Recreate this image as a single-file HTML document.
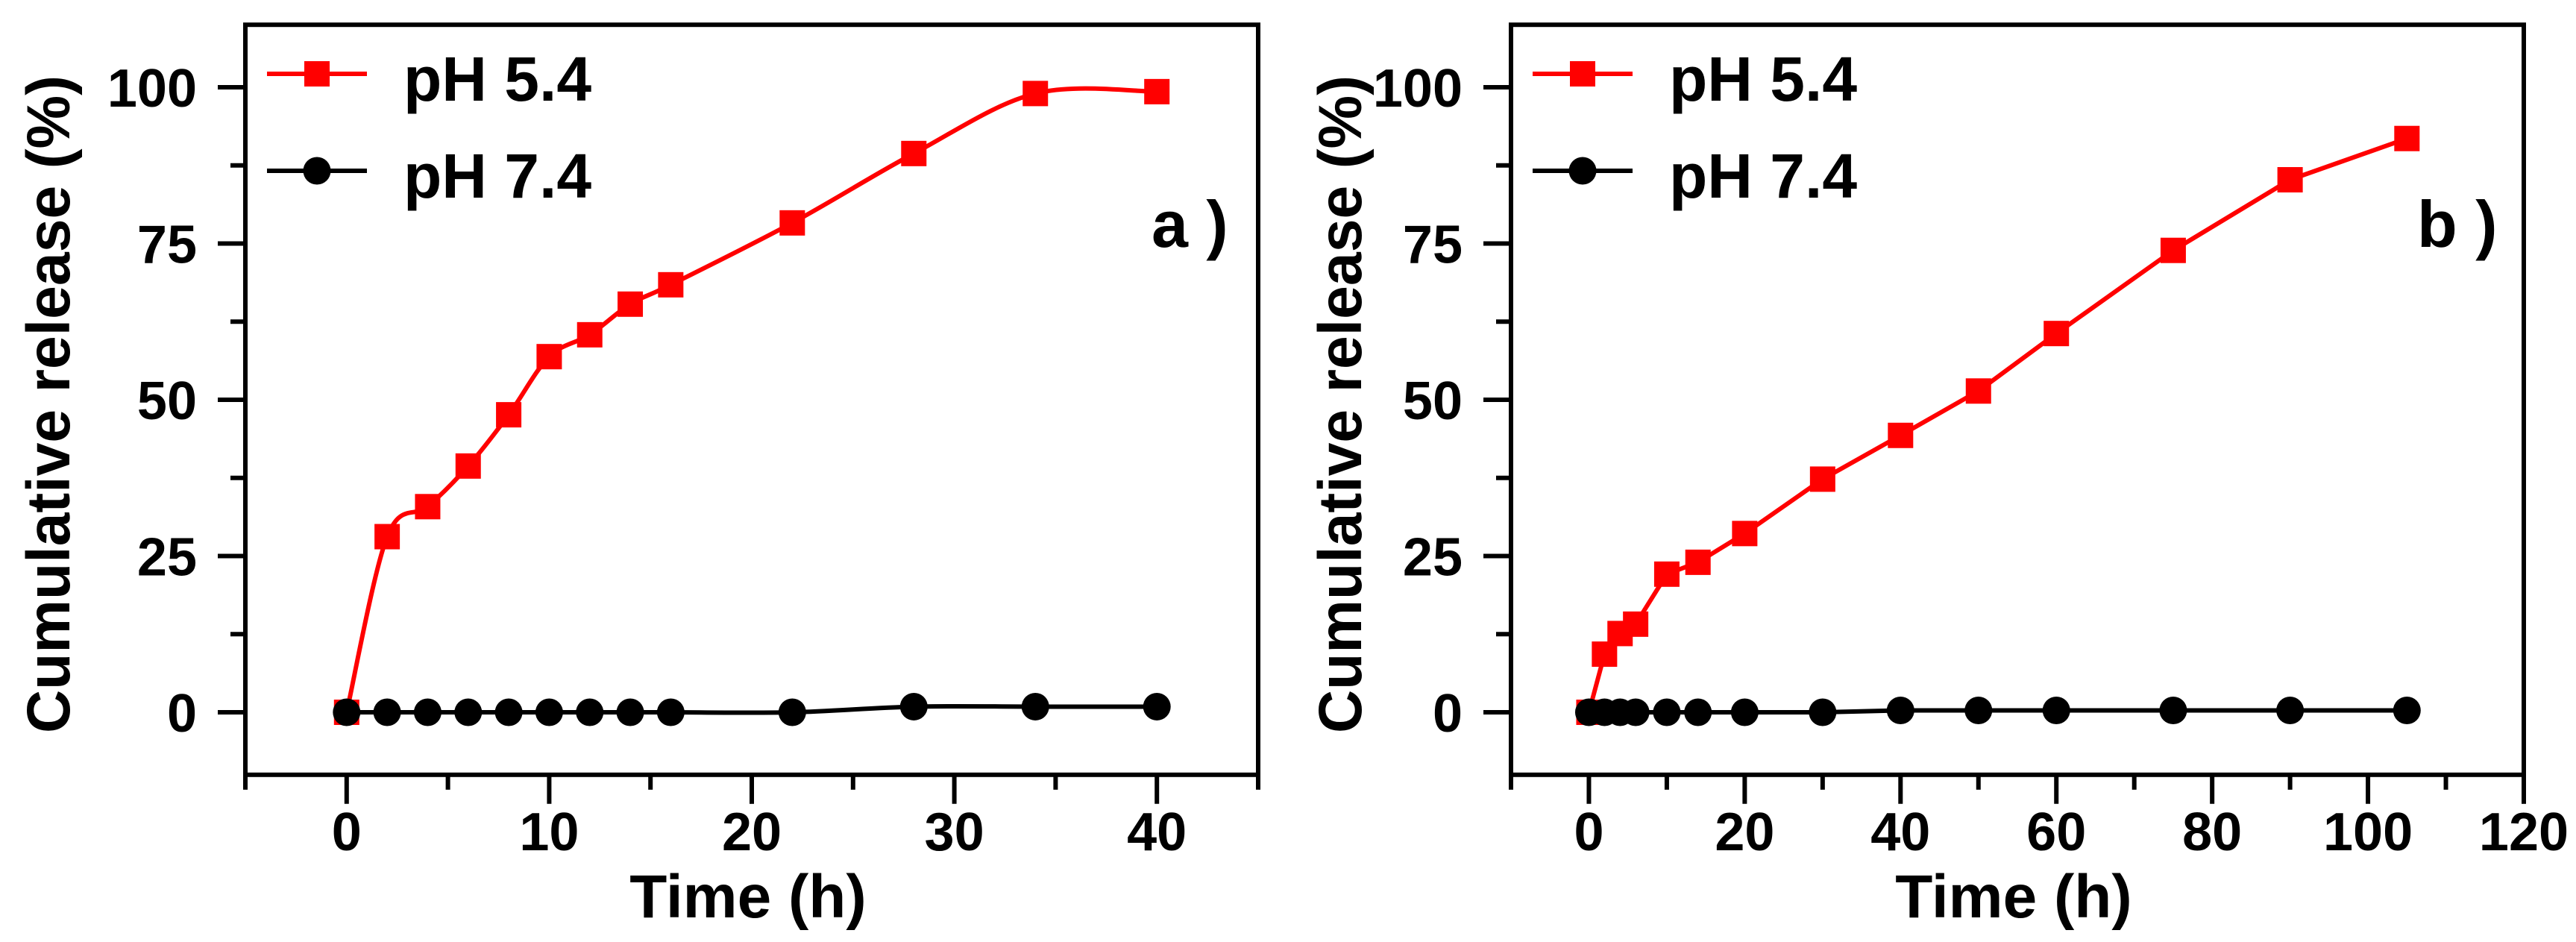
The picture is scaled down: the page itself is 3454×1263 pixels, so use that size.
<!DOCTYPE html>
<html><head><meta charset="utf-8"><style>
html,body{margin:0;padding:0;background:#fff;}
svg{display:block;font-family:"Liberation Sans",Arial,sans-serif;font-weight:bold;}
</style></head><body>
<svg id="chart" width="3454" height="1263" viewBox="0 0 3454 1263" xmlns="http://www.w3.org/2000/svg"></svg>
<script>
const aTimes = [0,2,4,6,8,10,12,14,16,22,28,34,40];
const aAcid = [0,28.1,32.9,39.4,47.6,56.9,60.4,65.3,68.4,78.3,89.4,99.0,99.3];
const aNeutral = [0,0,0,0,0,0,0,0,0,0,0.9,0.9,0.9];
const bTimes = [0,2,4,6,10,14,20,30,40,50,60,75,90,105];
const bAcid = [0,9.3,12.6,14.1,22.1,24.0,28.6,37.3,44.3,51.4,60.6,73.9,85.2,91.8];
const bNeutral = [0,0,0,0,0,0,0,0,0.3,0.3,0.3,0.3,0.3,0.3];
const yTickLabels = [0,25,50,75,100];
const aXTickLabels = [0,10,20,30,40];
const bXTickLabels = [0,20,40,60,80,100,120];
const seriesNames = ["pH 5.4","pH 7.4"];

const NS="http://www.w3.org/2000/svg";
const svg=document.getElementById('chart');
function mk(tag,attrs,parent){const e=document.createElementNS(NS,tag);for(const k in attrs)e.setAttribute(k,attrs[k]);(parent||svg).appendChild(e);return e;}

function panel(o){
  const g=mk('g',{});
  
  
  const X=v=>o.x0+(v-o.xmin)*(o.x1-o.x0)/(o.xmax-o.xmin);
  const Y=v=>955-v*8.38;
  const top=Y(110),bot=Y(-10);
  for(let i=0;i<=8;i++){const v=i*12.5;const major=i%2===0;
    const t=mk('line',{x1:o.x0-(major?37:20),x2:o.x0,y1:Y(v),y2:Y(v),stroke:'#000','stroke-width':6},g);
    
    
  }
  yTickLabels.forEach(v=>{const t=mk('text',{x:o.x0-65,y:Y(v)+26,'text-anchor':'end','font-size':72},g);t.textContent=v;
    
    });
  for(let v=o.xmin;v<=o.xmax+0.001;v+=o.minor){const major=Math.abs(v/o.major-Math.round(v/o.major))<1e-6;
    const t=mk('line',{x1:X(v),x2:X(v),y1:bot,y2:bot+(major?39:20),stroke:'#000','stroke-width':6},g);
    
    
  }
  o.xlabels.forEach(v=>{const t=mk('text',{x:X(v),y:1140,'text-anchor':'middle','font-size':72},g);t.textContent=v;
    
    });
  const f=mk('rect',{x:o.x0,y:top,width:o.x1-o.x0,height:bot-top,fill:'none',stroke:'#000','stroke-width':6},g);
  
  
  const xt=mk('text',{x:(o.x0+o.x1)/2-5,y:1230,'text-anchor':'middle','font-size':82},g);xt.textContent='Time (h)';
  
  
  const yt=mk('text',{x:0,y:0,'text-anchor':'middle','font-size':82,transform:`translate(${o.ytx},542) rotate(-90)`,textLength:882,lengthAdjust:'spacingAndGlyphs'},g);yt.textContent='Cumulative release (%)';
  
  
  function path(xs,ys,smooth){const p=xs.map((x,i)=>[X(x),Y(ys[i])]);
    if(!smooth)return 'M'+p.map(q=>q.join(',')).join('L');
    let d='M'+p[0].join(',');
    for(let i=0;i<p.length-1;i++){const p0=p[Math.max(0,i-1)],p1=p[i],p2=p[i+1],p3=p[Math.min(p.length-1,i+2)];
      const c1=[p1[0]+(p2[0]-p0[0])/6,p1[1]+(p2[1]-p0[1])/6],c2=[p2[0]-(p3[0]-p1[0])/6,p2[1]-(p3[1]-p1[1])/6];
      d+=`C${c1} ${c2} ${p2}`;}
    return d;}
  const ln2=mk('path',{d:path(o.t,o.n,o.smooth),fill:'none',stroke:'#000','stroke-width':6},g);
  
  
  const ln1=mk('path',{d:path(o.t,o.a,o.smooth),fill:'none',stroke:'#ff0000','stroke-width':6},g);
  
  
  o.t.forEach((x,i)=>{const r=mk('rect',{x:X(x)-17,y:Y(o.a[i])-17,width:34,height:34,fill:'#ff0000'},g);
    
    });
  o.t.forEach((x,i)=>{const c=mk('circle',{cx:X(x),cy:Y(o.n[i]),r:18.5,fill:'#000'},g);
    
    });
  const lx=o.x0+29;
  [[99,'#ff0000','sq'],[229,'#000','ci']].forEach((L,i)=>{
    const lg=mk('g',{},g);
    
    
    mk('line',{x1:lx,x2:lx+134,y1:L[0],y2:L[0],stroke:L[1],'stroke-width':6},lg);
    if(L[2]==='sq')mk('rect',{x:lx+50,y:L[0]-17,width:34,height:34,fill:L[1]},lg);
    else mk('circle',{cx:lx+67,cy:L[0],r:18.5,fill:L[1]},lg);
    const t=mk('text',{x:o.x0+212,y:L[0]+36,'font-size':84},lg);t.textContent=seriesNames[i];
  });
  const pl=mk('text',{x:o.x1-143,y:331,'font-size':88},g);pl.textContent=o.label;
  
  
}
panel({name:'panel-a',x0:329,x1:1687,xmin:-5,xmax:45,minor:5,major:10,xlabels:aXTickLabels,t:aTimes,a:aAcid,n:aNeutral,smooth:true,ytx:93,label:'a )'});
panel({name:'panel-b',x0:2026,x1:3384,xmin:-10,xmax:120,minor:10,major:20,xlabels:bXTickLabels,t:bTimes,a:bAcid,n:bNeutral,smooth:false,ytx:1825,label:'b )'});
</script>
</body></html>
